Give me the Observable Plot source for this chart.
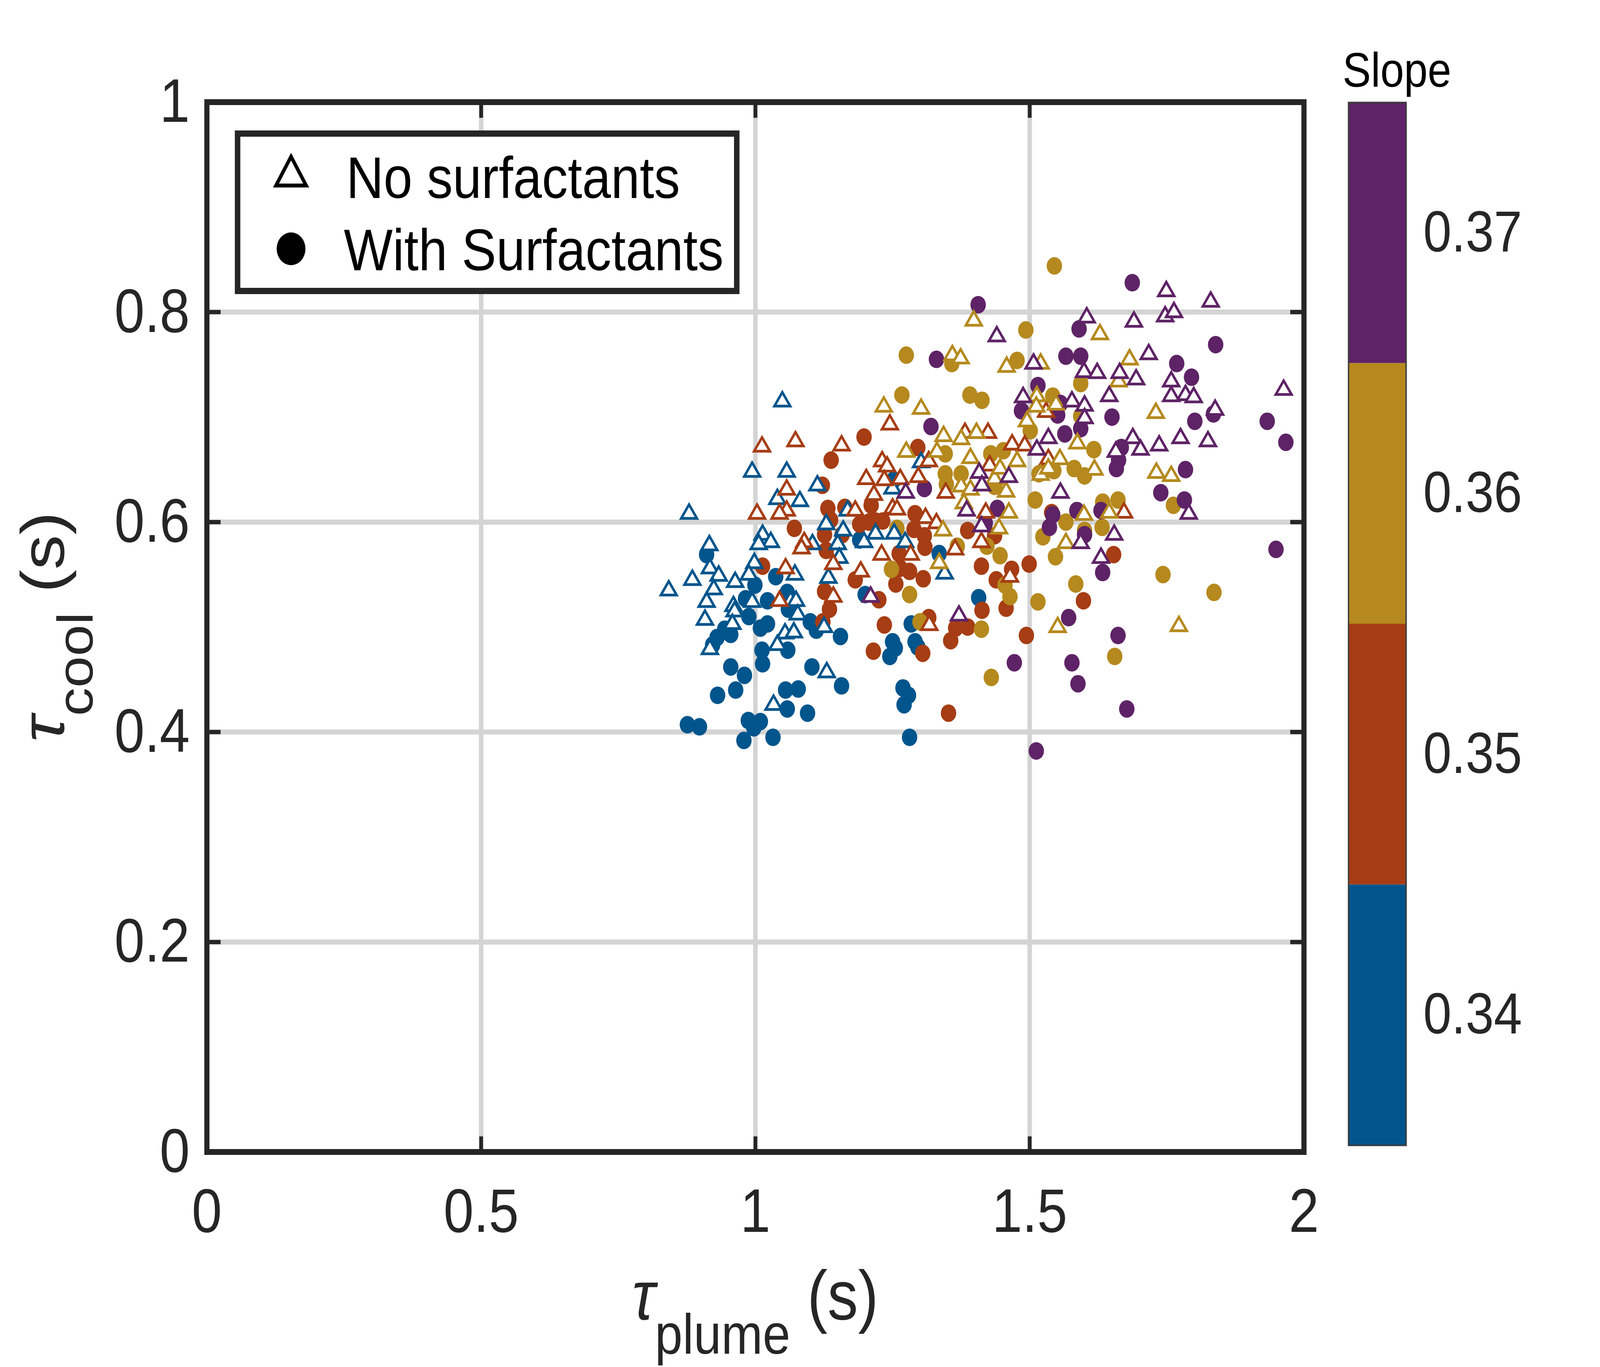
<!DOCTYPE html>
<html><head><meta charset="utf-8">
<script src="https://cdn.jsdelivr.net/npm/d3@7"></script>
<script src="https://cdn.jsdelivr.net/npm/@observablehq/plot@0.6"></script>
<style>
html,body{margin:0;padding:0;background:#fff;overflow:hidden;}
#wrap{position:relative;width:100vw;height:100vh;overflow:hidden;background:#fff;}
#chart{position:absolute;left:0;top:0;width:4667px;height:3500px;background:#fff;transform-origin:0 0;}
#chart svg{position:absolute;top:0;}
</style></head><body><div id="wrap"><div id="chart"></div></div>
<script>
const slopes = [0.34, 0.35, 0.36, 0.37];
const slopeColors = ["#00558c", "#a63d14", "#b5891d", "#5e2366"];
const xTicks = [0, 0.5, 1, 1.5, 2];
const yTicks = [0, 0.2, 0.4, 0.6, 0.8, 1];
const cbTicks = [0.34, 0.35, 0.36, 0.37];
const legendLabels = ["No surfactants", "With Surfactants"];

// [tau_plume, tau_cool] pairs
const noSurf034 = [[1.049,0.717],[0.879,0.610],[0.994,0.650],[1.057,0.650],[1.113,0.637],[1.040,0.624],[1.081,0.622],[1.129,0.600],[1.160,0.594],[1.168,0.613],[0.916,0.580],[1.013,0.590],[1.028,0.583],[1.006,0.581],[1.104,0.581],[1.150,0.581],[1.198,0.583],[1.219,0.591],[0.998,0.563],[0.917,0.558],[0.885,0.547],[0.842,0.537],[0.933,0.551],[0.963,0.545],[0.988,0.552],[1.072,0.552],[1.133,0.549],[0.924,0.538],[0.911,0.526],[0.960,0.522],[0.994,0.526],[1.064,0.527],[1.074,0.527],[0.962,0.517],[1.077,0.514],[0.908,0.509],[0.958,0.505],[1.125,0.502],[1.054,0.496],[1.070,0.497],[0.917,0.481],[1.040,0.485],[1.130,0.459],[1.033,0.428],[1.253,0.591],[1.273,0.583],[1.250,0.634],[1.302,0.659],[1.153,0.568],[1.345,0.553]];
const withSurf034 = [[0.911,0.569],[0.999,0.540],[0.982,0.527],[0.988,0.510],[1.009,0.499],[1.022,0.503],[1.022,0.525],[1.037,0.548],[1.058,0.533],[1.060,0.517],[1.100,0.505],[1.111,0.497],[1.155,0.491],[1.200,0.531],[1.190,0.583],[0.944,0.498],[0.955,0.493],[0.930,0.490],[0.922,0.483],[1.012,0.478],[1.013,0.465],[1.059,0.478],[0.955,0.462],[0.980,0.454],[0.931,0.435],[0.964,0.440],[1.055,0.440],[1.078,0.441],[1.103,0.462],[1.157,0.444],[1.058,0.422],[1.095,0.418],[0.876,0.407],[0.898,0.405],[0.987,0.411],[1.009,0.410],[0.997,0.404],[0.979,0.392],[1.032,0.395],[1.252,0.640],[1.284,0.503],[1.335,0.570],[1.250,0.486],[1.291,0.486],[1.407,0.528],[1.296,0.481],[1.255,0.480],[1.245,0.472],[1.269,0.442],[1.279,0.435],[1.271,0.426],[1.281,0.395]];
const noSurf035 = [[1.012,0.674],[1.073,0.679],[1.157,0.675],[1.003,0.610],[1.057,0.633],[1.057,0.613],[1.044,0.610],[1.089,0.583],[1.084,0.577],[1.055,0.558],[1.044,0.527],[1.202,0.643],[1.182,0.613],[1.142,0.562],[1.142,0.531],[1.192,0.555],[1.245,0.695],[1.231,0.660],[1.240,0.655],[1.235,0.642],[1.264,0.643],[1.297,0.645],[1.316,0.660],[1.216,0.628],[1.250,0.615],[1.258,0.614],[1.310,0.606],[1.330,0.601],[1.347,0.630],[1.230,0.571],[1.283,0.571],[1.317,0.504],[1.382,0.687],[1.424,0.687],[1.468,0.676],[1.491,0.675],[1.427,0.656],[1.364,0.576],[1.412,0.583],[1.420,0.611],[1.464,0.550],[1.534,0.662],[1.530,0.707],[1.672,0.611]];
const withSurf035 = [[1.198,0.681],[1.138,0.659],[1.122,0.635],[1.132,0.613],[1.163,0.614],[1.137,0.602],[1.126,0.588],[1.158,0.588],[1.071,0.594],[1.013,0.558],[1.182,0.545],[1.126,0.534],[1.135,0.517],[1.123,0.505],[1.215,0.477],[1.296,0.671],[1.211,0.616],[1.190,0.598],[1.207,0.600],[1.219,0.601],[1.291,0.608],[1.289,0.593],[1.308,0.587],[1.309,0.576],[1.129,0.573],[1.262,0.570],[1.264,0.556],[1.256,0.541],[1.281,0.553],[1.306,0.546],[1.225,0.526],[1.235,0.502],[1.316,0.509],[1.232,0.601],[1.387,0.592],[1.436,0.587],[1.412,0.558],[1.439,0.545],[1.467,0.555],[1.499,0.560],[1.457,0.518],[1.413,0.516],[1.365,0.499],[1.387,0.500],[1.356,0.487],[1.305,0.475],[1.352,0.418],[1.494,0.492],[1.598,0.525],[1.540,0.609],[1.653,0.569]];
const noSurf036 = [[1.398,0.794],[1.359,0.761],[1.374,0.758],[1.458,0.750],[1.520,0.753],[1.234,0.712],[1.302,0.710],[1.343,0.684],[1.375,0.681],[1.403,0.687],[1.513,0.722],[1.495,0.698],[1.512,0.712],[1.548,0.714],[1.587,0.677],[1.275,0.669],[1.331,0.669],[1.392,0.663],[1.375,0.636],[1.392,0.633],[1.436,0.643],[1.446,0.653],[1.477,0.660],[1.457,0.631],[1.555,0.662],[1.520,0.647],[1.534,0.653],[1.380,0.620],[1.462,0.611],[1.444,0.596],[1.342,0.594],[1.335,0.563],[1.566,0.582],[1.599,0.609],[1.551,0.502],[1.628,0.781],[1.682,0.757],[1.662,0.736],[1.730,0.706],[1.731,0.649],[1.758,0.646],[1.645,0.611],[1.618,0.652],[1.772,0.503]];
const withSurf036 = [[1.545,0.844],[1.493,0.783],[1.275,0.759],[1.358,0.751],[1.477,0.754],[1.267,0.721],[1.391,0.721],[1.413,0.716],[1.593,0.732],[1.542,0.720],[1.501,0.687],[1.593,0.701],[1.346,0.665],[1.346,0.646],[1.348,0.636],[1.375,0.646],[1.429,0.665],[1.452,0.668],[1.436,0.634],[1.517,0.646],[1.533,0.651],[1.544,0.649],[1.581,0.651],[1.600,0.644],[1.510,0.621],[1.566,0.600],[1.524,0.586],[1.547,0.567],[1.422,0.577],[1.368,0.577],[1.248,0.555],[1.281,0.531],[1.446,0.568],[1.455,0.540],[1.464,0.529],[1.515,0.524],[1.584,0.541],[1.412,0.498],[1.300,0.505],[1.430,0.452],[1.600,0.592],[1.258,0.594],[1.617,0.669],[1.633,0.619],[1.661,0.621],[1.762,0.616],[1.632,0.595],[1.743,0.550],[1.836,0.533],[1.655,0.472]];
const noSurf037 = [[1.440,0.779],[1.604,0.797],[1.507,0.753],[1.488,0.721],[1.577,0.717],[1.600,0.713],[1.600,0.701],[1.599,0.745],[1.534,0.682],[1.513,0.671],[1.408,0.649],[1.462,0.645],[1.413,0.637],[1.274,0.630],[1.385,0.613],[1.412,0.598],[1.556,0.630],[1.593,0.582],[1.371,0.513],[1.210,0.531],[1.749,0.822],[1.830,0.812],[1.690,0.793],[1.747,0.798],[1.763,0.802],[1.717,0.762],[1.623,0.744],[1.664,0.744],[1.694,0.738],[1.758,0.736],[1.645,0.722],[1.758,0.722],[1.784,0.723],[1.799,0.721],[1.838,0.709],[1.963,0.728],[1.688,0.682],[1.657,0.669],[1.702,0.671],[1.736,0.675],[1.775,0.682],[1.825,0.679],[1.790,0.610],[1.654,0.590],[1.630,0.568]];
const withSurf037 = [[1.406,0.807],[1.590,0.784],[1.330,0.755],[1.566,0.758],[1.593,0.758],[1.515,0.730],[1.485,0.706],[1.556,0.713],[1.551,0.702],[1.564,0.684],[1.593,0.689],[1.320,0.691],[1.308,0.632],[1.441,0.613],[1.419,0.599],[1.542,0.607],[1.536,0.595],[1.586,0.611],[1.600,0.588],[1.571,0.509],[1.472,0.466],[1.577,0.466],[1.588,0.446],[1.687,0.828],[1.839,0.769],[1.768,0.751],[1.795,0.738],[1.650,0.700],[1.801,0.696],[1.835,0.703],[1.933,0.696],[1.967,0.676],[1.667,0.671],[1.662,0.659],[1.658,0.651],[1.784,0.650],[1.739,0.628],[1.782,0.621],[1.630,0.611],[1.633,0.552],[1.949,0.574],[1.661,0.492],[1.677,0.422],[1.512,0.382]];

const groups = [
  {slope: 0.34, surf: true, pts: withSurf034},
  {slope: 0.35, surf: true, pts: withSurf035},
  {slope: 0.36, surf: true, pts: withSurf036},
  {slope: 0.37, surf: true, pts: withSurf037},
  {slope: 0.34, surf: false, pts: noSurf034},
  {slope: 0.35, surf: false, pts: noSurf035},
  {slope: 0.36, surf: false, pts: noSurf036},
  {slope: 0.37, surf: false, pts: noSurf037}
];
const rows = groups.flatMap(g => g.pts.map(([x, y]) => ({x, y, slope: g.slope, surf: g.surf})));

const FONT = "'Liberation Sans', Arial, Helvetica, sans-serif";
const INK = "#262626";
const W = 4667, H = 3500;
const L = 603, R = 3803, T = 261, B = 2949;

const rad = s => Math.sqrt(s / Math.PI);
const triSym = {draw(c, s) { const r = rad(s); c.moveTo(0, -0.78 * r); c.lineTo(r, 0.76 * r); c.lineTo(-r, 0.76 * r); c.closePath(); }};
const tickUp = {draw(c, s) { const r = rad(s); c.moveTo(0, 0); c.lineTo(0, -r); }};
const tickDown = {draw(c, s) { const r = rad(s); c.moveTo(0, 0); c.lineTo(0, r); }};
const tickRight = {draw(c, s) { const r = rad(s); c.moveTo(0, 0); c.lineTo(r, 0); }};
const tickLeft = {draw(c, s) { const r = rad(s); c.moveTo(0, 0); c.lineTo(-r, 0); }};
const tickOpts = {r: 40, stroke: INK, strokeWidth: 11, fill: "none"};

const colorScale = {type: "ordinal", domain: slopes, range: slopeColors};

const main = Plot.plot({
  width: W, height: H,
  marginLeft: L, marginRight: W - R, marginTop: T, marginBottom: H - B,
  style: {fontFamily: FONT, background: "white", maxWidth: "none", overflow: "visible"},
  x: {domain: [0, 2]},
  y: {domain: [0, 1]},
  color: colorScale,
  marks: [
    Plot.gridX(xTicks, {stroke: "#d4d4d4", strokeOpacity: 1, strokeWidth: 13}),
    Plot.gridY(yTicks, {stroke: "#d4d4d4", strokeOpacity: 1, strokeWidth: 13}),
    Plot.dot(rows.filter(d => d.surf), {x: "x", y: "y", r: 22.5, fill: "slope", stroke: "none"}),
    Plot.dot(rows.filter(d => !d.surf), {x: "x", y: "y", r: 23, symbol: triSym, fill: "white", stroke: "slope", strokeWidth: 7, strokeLinejoin: "miter"}),
    Plot.dot(xTicks, {x: d => d, frameAnchor: "bottom", symbol: tickUp, ...tickOpts}),
    Plot.dot(xTicks, {x: d => d, frameAnchor: "top", symbol: tickDown, ...tickOpts}),
    Plot.dot(yTicks, {y: d => d, frameAnchor: "left", symbol: tickRight, ...tickOpts}),
    Plot.dot(yTicks, {y: d => d, frameAnchor: "right", symbol: tickLeft, ...tickOpts}),
    Plot.frame({stroke: INK, strokeWidth: 15}),
    Plot.axisX(xTicks, {anchor: "bottom", tickSize: 0, tickPadding: 92, fontSize: 158, color: INK, label: null, tickFormat: d => String(d)}),
    Plot.axisY(yTicks, {anchor: "left", tickSize: 0, tickPadding: 50, fontSize: 158, color: INK, label: null, tickFormat: d => String(d)})
  ]
});
main.style.left = "0px";
const chart = document.getElementById("chart");
chart.appendChild(main);

const svg = d3.select(main);
// axis titles
const xl = svg.append("text").attr("x", (L + R) / 2).attr("y", 3378).attr("text-anchor", "middle")
  .attr("font-size", 178).attr("fill", INK).attr("font-family", FONT);
xl.append("tspan").attr("font-style", "italic").text("τ");
xl.append("tspan").attr("font-size", 145).attr("dy", 88).text("plume");
xl.append("tspan").attr("dy", -88).text(" (s)");
const yl = svg.append("text").attr("transform", `translate(186,${(T + B) / 2}) rotate(-90)`).attr("text-anchor", "middle")
  .attr("font-size", 178).attr("fill", INK).attr("font-family", FONT);
yl.append("tspan").attr("font-style", "italic").text("τ");
yl.append("tspan").attr("font-size", 145).attr("dy", 84).text("cool");
yl.append("tspan").attr("dy", -84).text(" (s)");

// legend
const lg = svg.append("g").attr("text-anchor", "start");
lg.append("rect").attr("x", 693).attr("y", 342).attr("width", 1456).attr("height", 403)
  .attr("fill", "white").attr("stroke", INK).attr("stroke-width", 16);
lg.append("path").attr("d", "M849,401L893,475L805,475Z").attr("fill", "white").attr("stroke", "black").attr("stroke-width", 10).attr("stroke-linejoin", "miter");
lg.append("circle").attr("cx", 849).attr("cy", 637).attr("r", 42).attr("fill", "black");
lg.append("text").attr("x", 1010).attr("y", 507).attr("text-anchor", "start").attr("font-size", 151).attr("font-family", FONT).attr("fill", "black").text(legendLabels[0]);
lg.append("text").attr("x", 1003).attr("y", 692).attr("text-anchor", "start").attr("font-size", 151).attr("font-family", FONT).attr("fill", "black").text(legendLabels[1]);

// colorbar
const CBX = 3900, cbL = 3933, cbR = 4101, cbT = 262, cbB = 2932, CBW = 767;
const cb = Plot.plot({
  width: CBW, height: H,
  marginLeft: cbL - CBX, marginRight: CBW - (cbR - CBX), marginTop: cbT, marginBottom: H - cbB,
  style: {fontFamily: FONT, background: "transparent", maxWidth: "none", overflow: "visible"},
  y: {domain: [0.335, 0.375], axis: null},
  color: colorScale,
  marks: [
    Plot.rect(slopes, {y1: d => d - 0.005, y2: d => d + 0.005, fill: d => d}),
    Plot.frame({stroke: "#3a3a3a", strokeWidth: 4}),
    Plot.axisY(cbTicks, {anchor: "right", tickSize: 0, tickPadding: 50, fontSize: 148, color: INK, label: null, tickFormat: d => d.toFixed(2)})
  ]
});
cb.style.left = CBX + "px";
chart.appendChild(cb);
d3.select(cb).append("text").attr("x", 3916 - CBX).attr("y", 222).attr("text-anchor", "start").attr("font-size", 124)
  .attr("font-family", FONT).attr("fill", "black").text("Slope");

// the browser viewport may be narrower than 4667 px: fill it exactly
function fit() {
  const sx = window.innerWidth / W, sy = window.innerHeight / H;
  chart.style.transform = `scale(${sx}, ${sy})`;
}
fit();
window.addEventListener("resize", fit);
</script>
</body></html>
